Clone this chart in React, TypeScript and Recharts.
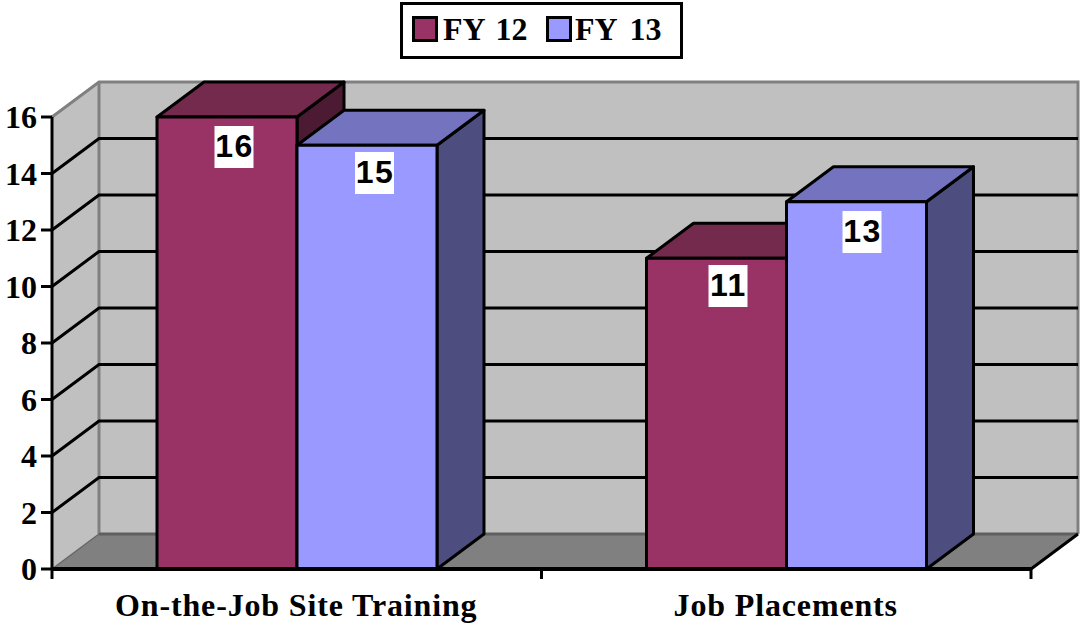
import { BarChart, Bar, XAxis, YAxis, Legend, LabelList, ReferenceArea } from "recharts";

const categories = ["On-the-Job Site Training", "Job Placements"];
const fy12 = [16, 11];
const fy13 = [15, 13];
const yTicks = [0, 2, 4, 6, 8, 10, 12, 14, 16];
const gridTicks = [2, 4, 6, 8, 10, 12, 14];
const yMax = 16;

const chartData = categories.map((name, i) => ({ name, fy12: fy12[i], fy13: fy13[i] }));

const DX = 47;
const DY = 35;
const SERIF = "'Liberation Serif', serif";
const SANS = "'Liberation Sans', sans-serif";

// the value boxes sit a little off centre in the original, differently per bar
const labelNudge: Record<number, number[]> = { 16: [7, 9], 15: [7.5, 6.75], 11: [11.5, 6.75], 13: [5.5, 9.25] };

const pts = (list: number[][]) => list.map((p) => p.join(",")).join(" ");

// back wall, side wall, floor and grid, sized from the plot area so they stay behind the bars
const Walls = ({ x, y, width, height }: any) => {
  const b = y + height;
  const r = x + width;
  const marks = categories.map((_, i) => x + (width * (i + 1)) / categories.length);
  return (
    <g>
      <polygon points={pts([[x, y], [x + DX, y - DY], [x + DX, b - DY], [x, b]])} fill="#c0c0c0" />
      <rect x={x + DX} y={y - DY} width={width} height={height} fill="#c0c0c0" />
      <polygon points={pts([[x, b], [x + DX, b - DY], [r + DX, b - DY], [r, b]])} fill="#808080" />
      <polyline points={pts([[x, y], [x + DX, y - DY], [r + DX, y - DY], [r + DX, b - DY]])} fill="none" stroke="#808080" strokeWidth={3} />
      <line x1={x + DX} y1={y - DY} x2={x + DX} y2={b - DY} stroke="#808080" strokeWidth={3} />
      <line x1={x + DX} y1={b - DY} x2={r + DX} y2={b - DY} stroke="#5f5f5f" strokeWidth={3} />
      <line x1={x} y1={b} x2={x + DX} y2={b - DY} stroke="#666" strokeWidth={1.5} />
      <line x1={r} y1={b} x2={r + DX} y2={b - DY} stroke="#000" strokeWidth={3} />
      {gridTicks.map((t) => {
        const gy = b - (height * t) / yMax;
        return (
          <polyline key={t} points={pts([[x, gy], [x + DX, gy - DY], [r + DX, gy - DY]])} fill="none" stroke="#000" strokeWidth={3} />
        );
      })}
      {marks.map((m) => (
        <line key={m} x1={m} y1={b} x2={m} y2={b + 10} stroke="#000" strokeWidth={3} />
      ))}
      <line x1={x} y1={b} x2={x} y2={b + 10} stroke="#000" strokeWidth={3} />
    </g>
  );
};

const bar3d = (front: string, top: string, side: string) => (props: any) => {
  const { x, y, width, height } = props;
  return (
    <g stroke="#000" strokeWidth={3} strokeLinejoin="round">
      <polygon points={pts([[x + width, y], [x + width + DX, y - DY], [x + width + DX, y + height - DY], [x + width, y + height]])} fill={side} />
      <polygon points={pts([[x, y], [x + DX, y - DY], [x + width + DX, y - DY], [x + width, y]])} fill={top} />
      <rect x={x} y={y} width={width} height={height} fill={front} />
    </g>
  );
};

const ValueLabel = ({ x, y, width, value }: any) => {
  const [dx, dy] = labelNudge[value] ?? [8, 8];
  const cx = x + width / 2 + dx;
  return (
    <g>
      <rect x={cx - 19.5} y={y + dy} width={39} height={42} fill="#fff" />
      <text x={cx + 0.5} y={y + dy + 31} textAnchor="middle" fontFamily={SANS} fontWeight="bold" fontSize={32} letterSpacing={1.5} fill="#000">
        {value}
      </text>
    </g>
  );
};

const CategoryTick = ({ x, y, payload }: any) => (
  <text x={x - 0.5} y={y + 39} textAnchor="middle" fontFamily={SERIF} fontWeight="bold" fontSize={32} letterSpacing={0.85} fill="#000">
    {payload.value}
  </text>
);

const LegendBox = () => (
  <div style={{ position: "relative", width: 283, height: 57, boxSizing: "border-box", border: "3px solid #000", background: "#fff", fontFamily: SERIF, fontWeight: "bold", fontSize: 32, color: "#000" }}>
    <span style={{ position: "absolute", left: 9, top: 11, width: 20, height: 20, border: "3px solid #000", background: "#993366" }} />
    <span style={{ position: "absolute", left: 40, top: 6, lineHeight: "36px", whiteSpace: "nowrap", wordSpacing: 3 }}>FY 12</span>
    <span style={{ position: "absolute", left: 143, top: 11, width: 20, height: 20, border: "3px solid #000", background: "#9999ff" }} />
    <span style={{ position: "absolute", left: 172, top: 6, lineHeight: "36px", whiteSpace: "nowrap", wordSpacing: 5 }}>FY 13</span>
  </div>
);

export default function App() {
  return (
    <div style={{ position: "absolute", left: 0, top: 0, width: 1082, height: 627, background: "#fff" }}>
      <BarChart
        width={1082}
        height={627}
        data={chartData}
        margin={{ top: 117, right: 51, bottom: 0, left: 0 }}
        barSize={140}
        barGap={0}
      >
        <ReferenceArea y1={0} y2={yMax} shape={Walls} ifOverflow="visible" />
        <XAxis dataKey="name" height={58} tick={CategoryTick} tickLine={false} axisLine={{ stroke: "#000", strokeWidth: 4 }} interval={0} />
        <YAxis
          width={52}
          domain={[0, yMax]}
          ticks={yTicks}
          tickSize={11}
          tickMargin={4}
          tick={{ fill: "#000", fontFamily: SERIF, fontWeight: "bold", fontSize: 32 }}
          tickLine={{ stroke: "#000", strokeWidth: 3 }}
          axisLine={{ stroke: "#000", strokeWidth: 3 }}
        />
        <Legend
          layout="horizontal"
          verticalAlign="middle"
          content={LegendBox}
          wrapperStyle={{ position: "absolute", left: 400, top: 2, width: 283, height: 57 }}
        />
        <Bar dataKey="fy12" name="FY 12" shape={bar3d("#993366", "#732a4d", "#4d1a33")} isAnimationActive={false}>
          <LabelList dataKey="fy12" content={ValueLabel} />
        </Bar>
        <Bar dataKey="fy13" name="FY 13" shape={bar3d("#9999ff", "#7373bf", "#4d4d80")} isAnimationActive={false}>
          <LabelList dataKey="fy13" content={ValueLabel} />
        </Bar>
      </BarChart>
    </div>
  );
}
